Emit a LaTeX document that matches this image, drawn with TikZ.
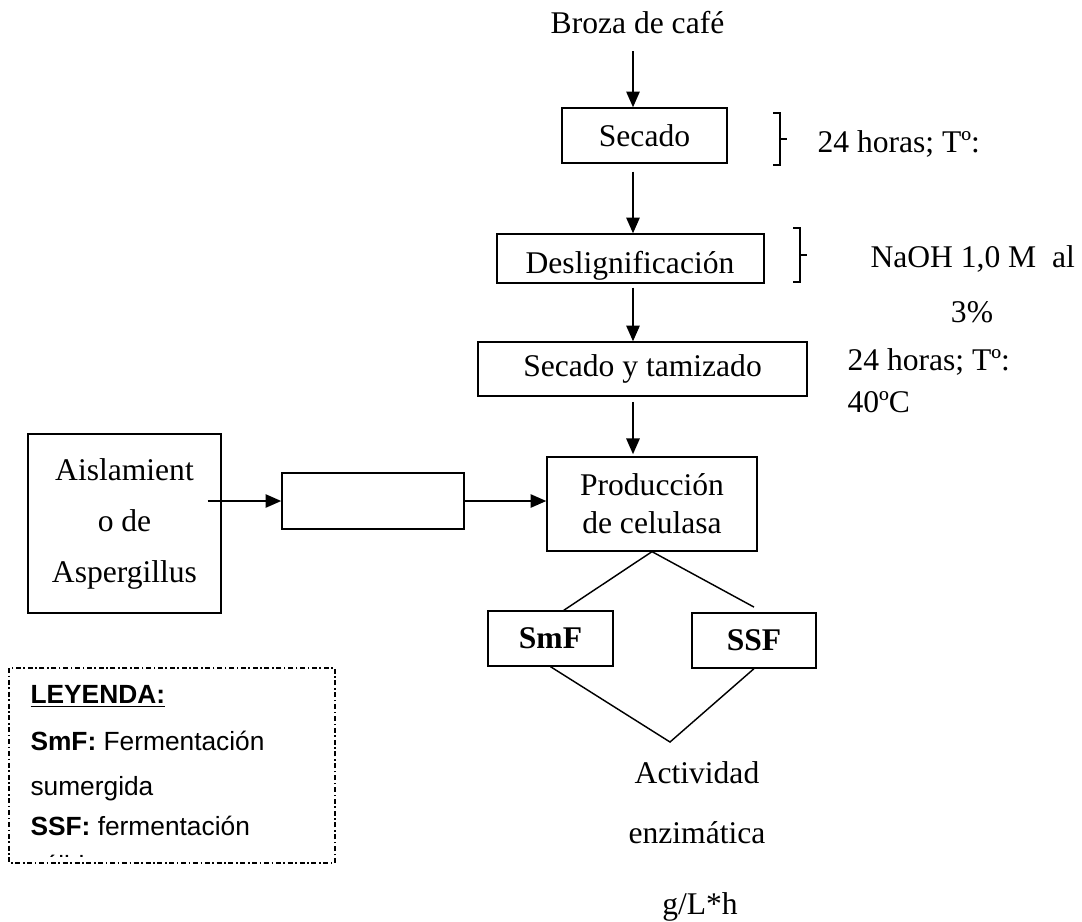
\documentclass[tikz,border=0pt]{standalone}
\usepackage{fontspec}
\setmainfont{Liberation Serif}
\newfontfamily\leyendafont{Liberation Sans}
\usetikzlibrary{arrows.meta}

\begin{document}
\begin{tikzpicture}[x=0.38pt,y=-0.38pt,
        font=\fontsize{12}{14.4}\selectfont,
        caja/.style={draw, line width=0.5pt, inner sep=0pt, align=center},
        flecha/.style={line width=0.9pt, -{Triangle[length=6pt,width=5pt]}},
        rama/.style={line width=0.55pt},
        llave/.style={line width=0.55pt},
        nota/.style={anchor=base west, inner sep=0pt},
        textoley/.style={anchor=base west, inner sep=0pt, font=\leyendafont\fontsize{10}{12}\selectfont}]

        % Fija el tamaño del dibujo.
        \useasboundingbox (0,0) rectangle (1082,921);

        % Eje vertical de las flechas principales.
        \coordinate (eje) at (633,0);

        % Materia prima y etapas del pretratamiento.
        \node[anchor=base, inner sep=0pt] (broza) at (637.5,33) {Broza de café};
        \node[caja, minimum width=62.7pt, minimum height=20.9pt] (secado) at (644.5,135.5) {Secado};
        \node[caja, minimum width=101.5pt, minimum height=18.6pt] (deslig) at (630.5,258.5) {};
        \begin{scope}
            % El texto queda cortado por el borde inferior de la caja.
            \clip (deslig.south west) rectangle (deslig.north east);
            \node[anchor=base, inner sep=0pt] (desligtxt) at (630,273) {Deslignificación};
        \end{scope}
        \node[caja, minimum width=125pt, minimum height=20.5pt] (tamiz) at (642.5,369) {Secado y tamizado};

        % Producción y rama del hongo.
        \node[caja, minimum width=79.8pt, minimum height=35.7pt] (prod) at (652,504) {Producción\\de celulasa};
        \node[caja, minimum width=73.3pt, minimum height=68pt, font=\fontsize{12}{19.4}\selectfont] (aisl) at (124.5,523.5) {Aislamient\\o de\\Aspergillus};
        \node[caja, minimum width=69.2pt, minimum height=21.3pt] (vacio) at (373,501) {};

        % Tipos de fermentación.
        \node[caja, minimum width=47.5pt, minimum height=20.9pt, font=\fontsize{12}{14.4}\selectfont\bfseries] (smf) at (550.5,638.5) {SmF};
        \node[caja, minimum width=47.1pt, minimum height=20.9pt, font=\fontsize{12}{14.4}\selectfont\bfseries] (ssf) at (754,640.5) {SSF};
        \coordinate (vertice) at (670,742);

        % Resultado final.
        \node[inner sep=0pt] (activ) at (697,773) {Actividad};
        \node[inner sep=0pt] (enzim) at (697,833) {enzimática};
        \node[inner sep=0pt] (unid) at (700,907) {g/L*h};

        % Flechas del flujo principal.
        \draw[flecha, shorten <=7pt] (broza.base -| eje) -- (secado.north -| eje);
        \draw[flecha, shorten <=3pt] (secado.south -| eje) -- (deslig.north -| eje);
        \draw[flecha, shorten <=1.5pt] (deslig.south -| eje) -- (tamiz.north -| eje);
        \draw[flecha, shorten <=2pt, shorten >=0.8pt] (tamiz.south -| eje) -- (prod.north -| eje);

        % Flechas de la rama lateral.
        \draw[flecha] ([xshift=-5.3pt]aisl.east |- vacio.west) -- (vacio.west);
        \draw[flecha] (vacio.east) -- (vacio.east -| prod.west);

        % Ramas hacia SmF y SSF y unión final.
        \draw[rama] (prod.south) -- ([xshift=5pt]smf.north);
        \draw[rama] (prod.south) -- ([yshift=2pt]ssf.north);
        \draw[rama] (smf.south) -- (vertice) -- (ssf.south);

        % Llaves y condiciones de cada etapa.
        \draw[llave] (773,113) -- (780,113) -- (780,165) -- (773,165);
        \draw[llave] (780,139) -- (787,139);
        \draw[llave] (793,228) -- (800,228) -- (800,282) -- (793,282);
        \draw[llave] (800,255) -- (807,255);
        \node[nota] (cond1) at (817,152) {24 horas; Tº:};
        \node[nota] (cond2) at (870,267) {NaOH 1,0 M\ \ al};
        \node[anchor=base, inner sep=0pt] (cond3) at (972,322) {3\%};
        \node[nota] (cond4) at (847,370) {24 horas; Tº:};
        \node[nota] (cond5) at (847,412) {40ºC};

        % Leyenda con borde de trazo y punto.
        \draw[line width=0.4pt, dash pattern=on 1.9pt off 1pt on 0.6pt off 1pt] (9,668) rectangle (335,863);
        \node[textoley] (ley0) at (30,703) {\underline{\textbf{LEYENDA:}}};
        \node[textoley] (ley1) at (30,750) {\textbf{SmF:} Fermentación};
        \node[textoley] (ley2) at (30,795) {sumergida};
        \node[textoley] (ley3) at (30,835) {\textbf{SSF:} fermentación};
        \begin{scope}
            \clip (10,840) rectangle (334,856);
            \node[textoley] (ley4) at (30,874) {sólida};
        \end{scope}
    \end{tikzpicture}
\end{document}
